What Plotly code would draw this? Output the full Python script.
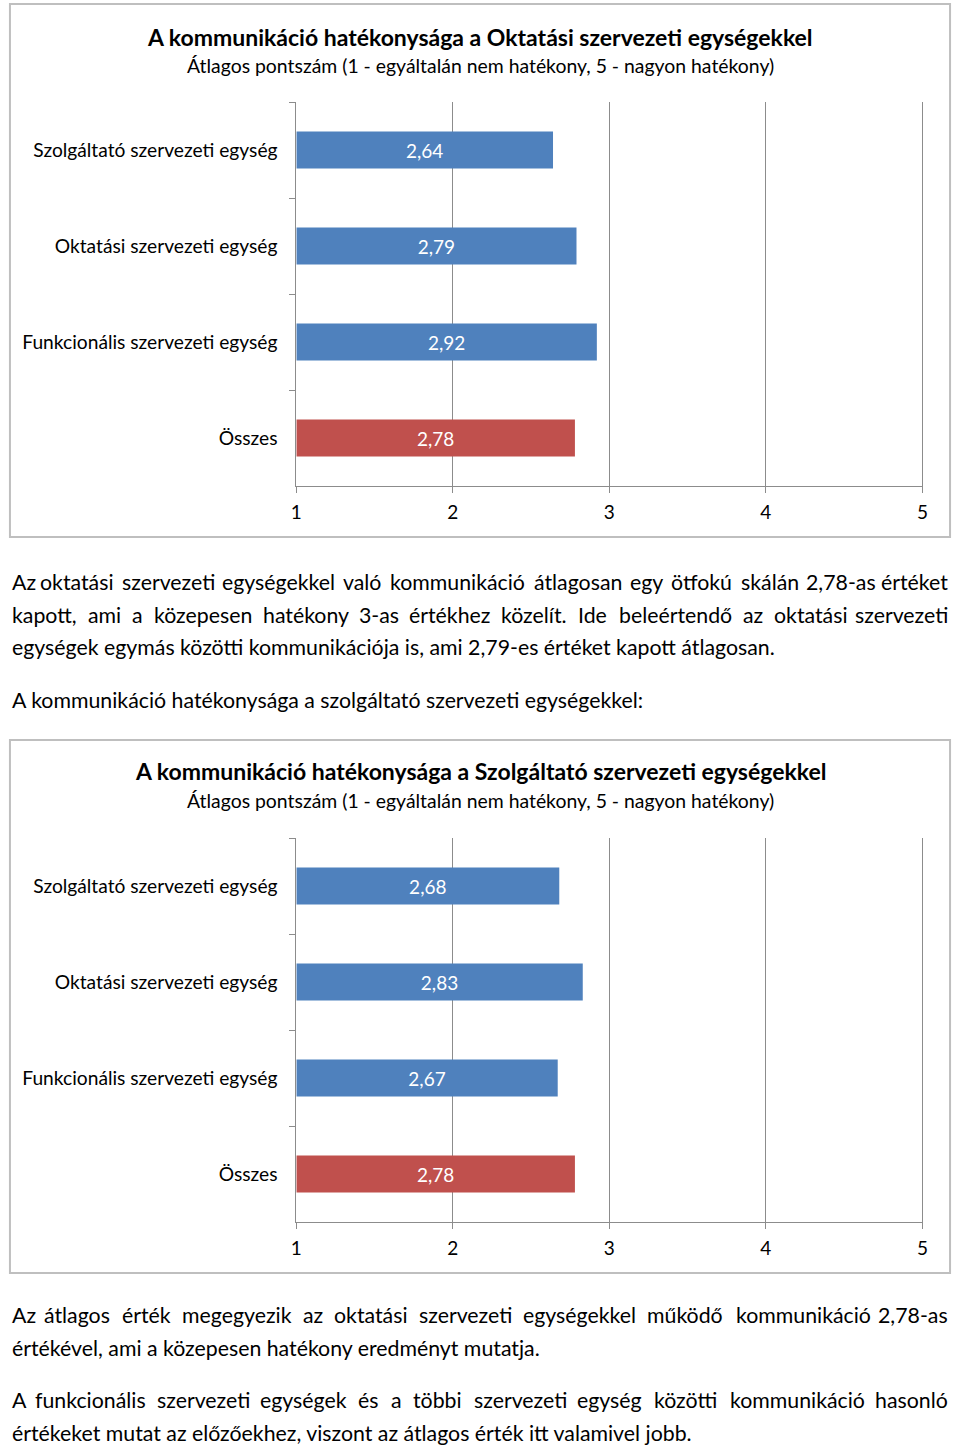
import plotly.graph_objects as go

W, H = 960, 1448
FONT = "Lato"

categories = ["Szolgáltató szervezeti egység", "Oktatási szervezeti egység",
              "Funkcionális szervezeti egység", "Összes"]
oktatasi_values = [2.64, 2.79, 2.92, 2.78]
szolgaltato_values = [2.68, 2.83, 2.67, 2.78]
bar_colors = ["#4F81BD", "#4F81BD", "#4F81BD", "#C0504D"]
x_ticks = [1, 2, 3, 4, 5]
chart_titles = ["A kommunikáció hatékonysága a Oktatási szervezeti egységekkel",
                "A kommunikáció hatékonysága a Szolgáltató szervezeti egységekkel"]
chart_subtitle = "Átlagos pontszám (1 - egyáltalán nem hatékony, 5 - nagyon hatékony)"

# (text, justified, y-pixel)
text_lines = [
    ("Az oktatási szervezeti egységekkel való kommunikáció átlagosan egy ötfokú skálán 2,78-as értéket", True, 582),
    ("kapott, ami a közepesen hatékony 3-as értékhez közelít. Ide beleértendő az oktatási szervezeti", True, 615),
    ("egységek egymás közötti kommunikációja is, ami 2,79-es értéket kapott átlagosan.", False, 647),
    ("A kommunikáció hatékonysága a szolgáltató szervezeti egységekkel:", False, 700),
    ("Az átlagos érték megegyezik az oktatási szervezeti egységekkel működő kommunikáció 2,78-as", True, 1315),
    ("értékével, ami a közepesen hatékony eredményt mutatja.", False, 1348),
    ("A funkcionális szervezeti egységek és a többi szervezeti egység közötti kommunikáció hasonló", True, 1400),
    ("értékeket mutat az előzőekhez, viszont az átlagos érték itt valamivel jobb.", False, 1433),
]

charts = [
    dict(values=oktatasi_values, frame=(4, 4, 956, 537), plot=(294, 928, 102, 486), ty=37, sy=66),
    dict(values=szolgaltato_values, frame=(4, 740, 956, 1273), plot=(294, 928, 838, 1222), ty=771, sy=800),
]

GRID = "#8c8c8c"
PARA_SIZE = 21.3
EST_SCALE = 1.08  # Lato width relative to the Calibri-like table below

CW = {'a': .479, 'b': .525, 'c': .423, 'd': .525, 'e': .498, 'f': .305, 'g': .471, 'h': .525,
      'i': .229, 'j': .239, 'k': .455, 'l': .229, 'm': .799, 'n': .525, 'o': .527, 'p': .525,
      'q': .525, 'r': .349, 's': .391, 't': .335, 'u': .525, 'v': .452, 'w': .715, 'x': .433,
      'y': .453, 'z': .395, ' ': .226, ',': .250, '.': .252, '-': .306, ':': .268,
      'A': .579, 'I': .252}
ACC = {'á': 'a', 'é': 'e', 'í': 'i', 'ó': 'o', 'ö': 'o', 'ő': 'o', 'ú': 'u', 'ü': 'u', 'ű': 'u'}


def est_width(word, size):
    s = 0
    for ch in word:
        ch = ACC.get(ch, ch)
        if ch.isdigit():
            s += .507
        else:
            s += CW.get(ch, .6)
    return s * size * EST_SCALE


def px(x):
    return x / W


def py(y):
    return 1 - y / H


def fmt(v):
    return f"{v:.2f}".replace(".", ",")


fig = go.Figure()
annotations = []
shapes = []
layout_axes = {}

for i, ch in enumerate(charts):
    sfx = "" if i == 0 else str(i + 1)
    vals = ch["values"]
    fig.add_trace(go.Bar(
        y=categories, x=[v - 1 for v in vals], base=1, orientation="h",
        marker=dict(color=bar_colors, line=dict(width=0)),
        text=[fmt(v) for v in vals], textposition="inside", insidetextanchor="middle",
        textfont=dict(family=FONT, size=19, color="white"),
        xaxis="x" + sfx, yaxis="y" + sfx, hoverinfo="skip", showlegend=False,
    ))
    x0, x1, yt, yb = ch["plot"]
    layout_axes["xaxis" + sfx] = dict(
        domain=[px(x0), px(x1)], range=[1, 5], tickvals=x_ticks, anchor="y" + sfx,
        showgrid=True, gridcolor=GRID, gridwidth=1, zeroline=False,
        showline=True, linecolor=GRID, linewidth=1, ticks="outside", ticklen=6, tickcolor=GRID,
        tickfont=dict(family=FONT, size=19, color="black"), ticklabelstandoff=3, fixedrange=True,
    )
    layout_axes["yaxis" + sfx] = dict(
        domain=[py(yb), py(yt)], type="category", autorange="reversed", anchor="x" + sfx,
        showgrid=False, zeroline=False, showline=True, mirror=True, linecolor=GRID, linewidth=1,
        ticks="outside", tickson="boundaries", ticklen=6, tickcolor=GRID,
        tickfont=dict(family=FONT, size=19.2, color="black"), ticklabelstandoff=14, fixedrange=True,
    )
    fl, ft, fr, fb = ch["frame"]
    shapes.append(dict(type="rect", xref="paper", yref="paper", x0=px(fl), x1=px(fr),
                       y0=py(fb), y1=py(ft), line=dict(color="#bfbfbf", width=2), layer="below"))
    annotations.append(dict(text="<b>" + chart_titles[i] + "</b>", x=px((fl + fr) / 2), y=py(ch["ty"]),
                            xref="paper", yref="paper", showarrow=False, xanchor="center", yanchor="middle",
                            font=dict(family=FONT, size=23, color="black")))
    annotations.append(dict(text=chart_subtitle, x=px((fl + fr) / 2), y=py(ch["sy"]),
                            xref="paper", yref="paper", showarrow=False, xanchor="center", yanchor="middle",
                            font=dict(family=FONT, size=19.4, color="black")))

LX0, LX1 = 4, 956
for text, justified, ypix in text_lines:
    if not justified:
        annotations.append(dict(text=text, x=px(LX0), y=py(ypix), xref="paper", yref="paper",
                                showarrow=False, xanchor="left", yanchor="middle",
                                font=dict(family=FONT, size=PARA_SIZE, color="black")))
        continue
    words = text.split(" ")
    widths = [est_width(w, PARA_SIZE) for w in words]
    gap = (LX1 - LX0 - sum(widths)) / (len(words) - 1)
    pos = LX0
    for k, (w, wd) in enumerate(zip(words, widths)):
        if k == 0:
            xa, xv = "left", LX0
        elif k == len(words) - 1:
            xa, xv = "right", LX1
        else:
            xa, xv = "center", pos + wd / 2
        annotations.append(dict(text=w, x=px(xv), y=py(ypix), xref="paper", yref="paper",
                                showarrow=False, xanchor=xa, yanchor="middle",
                                font=dict(family=FONT, size=PARA_SIZE, color="black")))
        pos += wd + gap

fig.update_layout(
    width=W, height=H, margin=dict(l=0, r=0, t=0, b=0),
    paper_bgcolor="white", plot_bgcolor="white", bargap=0.615,
    annotations=annotations, shapes=shapes, font=dict(family=FONT),
    **layout_axes,
)

fig.write_html("out.html", config={"displayModeBar": False},
               post_script="document.body.style.margin='0';document.body.style.overflow='hidden';")
